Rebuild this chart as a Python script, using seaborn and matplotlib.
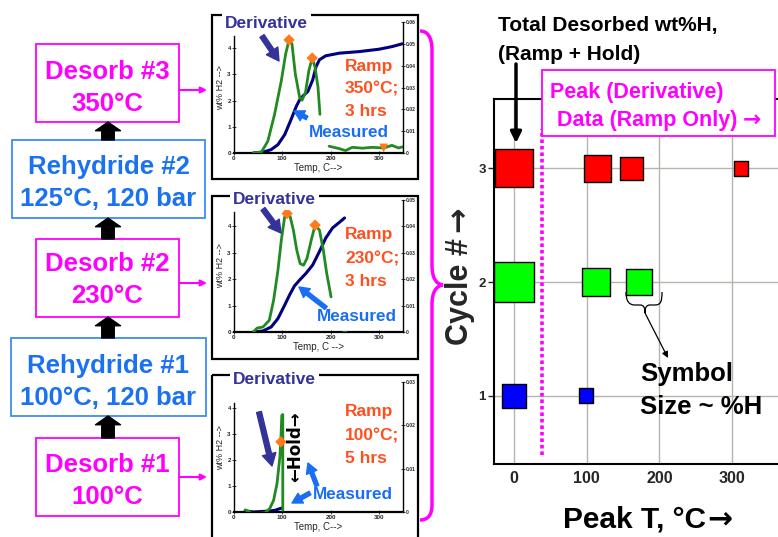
import numpy as np
import pandas as pd
import matplotlib
matplotlib.use("Agg")
import matplotlib.pyplot as plt
import seaborn as sns
from matplotlib.patches import Rectangle, PathPatch
from matplotlib.path import Path

sns.set_style("white")
plt.rcParams["font.family"] = ["Liberation Sans", "DejaVu Sans"]
plt.rcParams["font.weight"] = "bold"

W, H = 778, 537

# main chart: peak temperatures of each desorb cycle (0 = total desorbed)
cycles = [3, 3, 3, 3, 2, 2, 2, 1, 1]
peak_t = [0, 115, 162, 312, 0, 113, 172, 0, 99]
wt_h = [4.0, 2.1, 1.5, 0.6, 4.3, 2.1, 1.8, 1.6, 0.6]
cycle_colors = {1: "#0000ff", 2: "#00ff00", 3: "#ff0000"}
main_xticks = [0, 100, 200, 300]
main_yticks = [1, 2, 3]
ramp_only_t = 38

# inset: cycle 3, ramp to 350C
c3_meas_t = [40, 60, 77, 91, 105, 118, 129, 136, 142, 153, 163, 170, 177, 190, 218, 259, 300, 327, 349]
c3_meas_wt = [0, 0.03, 0.13, 0.32, 0.70, 1.27, 1.78, 2.03, 2.16, 2.35, 2.79, 3.30, 3.56, 3.71, 3.81, 3.87, 3.96, 4.06, 4.17]
c3_der_t = [40, 57, 70, 84, 98, 107, 114, 120, 127, 136, 141, 148, 155, 162, 168, 174, 178,
            197, 218, 231, 245, 266, 286, 310, 327, 341, 349]
c3_der_v = [0, 0.0005, 0.0054, 0.0177, 0.0331, 0.0454, 0.0518, 0.050, 0.0362, 0.0254, 0.0242, 0.0277,
            0.0377, 0.0435, 0.0392, 0.030, 0.0177,
            0.0031, 0.002, 0.0011, 0.0026, 0.0022, 0.0026, 0.0023, 0.0035, 0.0023, 0.0028]
c3_der_seg = [0] * 17 + [1] * 10
c3_pk_t = [114, 162]
c3_pk_v = [0.0518, 0.0435]
c3_hold_t = [310]
c3_hold_v = [0.0023]

# inset: cycle 2, ramp to 230C
c2_meas_t = [40, 60, 77, 91, 105, 115, 125, 136, 149, 163, 177, 190, 204, 218, 229]
c2_meas_wt = [0, 0.04, 0.19, 0.51, 1.02, 1.40, 1.74, 1.97, 2.22, 2.54, 3.05, 3.56, 3.94, 4.15, 4.32]
c2_der_t = [40, 48, 60, 73, 82, 91, 98, 105, 110, 116, 123, 130, 137, 144, 151, 160, 168, 177, 185, 192, 201,
            226, 231]
c2_der_v = [0, 0.0015, 0.0019, 0.0044, 0.012, 0.0234, 0.0348, 0.0437, 0.0449, 0.0439, 0.0386, 0.031, 0.0259,
            0.0253, 0.0278, 0.0348, 0.0405, 0.0386, 0.031, 0.0222, 0.0133,
            0.0, 0.0]
c2_der_seg = [0] * 21 + [1] * 2
c2_pk_t = [110, 168]
c2_pk_v = [0.0449, 0.0405]

# inset: cycle 1, ramp to 100C
c1_meas_t = [23, 40, 67, 84, 95, 99]
c1_meas_wt = [0.04, 0.0, 0.03, 0.06, 0.13, 0.15]
c1_der_t = [23, 30, 36, 50, 64, 74, 82, 89, 95, 97, 99, 101, 101]
c1_der_v = [0.0005, 0.0002, -0.0003, -0.0003, -0.0002, 0.0008, 0.0027, 0.0065, 0.0127, 0.0165, 0.0223,
            0.0225, 0.0004]
c1_der_seg = [0] * 13
c1_pk_t = [97]
c1_pk_v = [0.0162]

NAVY = "#000080"
GREEN = "#218a21"
ORANGE = "#ff7a1a"
MAGENTA = "#ff00ff"
FLOWBLUE = "#1a72f0"
MEASBLUE = "#1a6ef5"
DERIV = "#333399"
RAMP = "#ff5020"

fig = plt.figure(figsize=(W / 100, H / 100), dpi=100)


def px_box(x0, y0, x1, y1):
    return [x0 / W, 1 - y1 / H, (x1 - x0) / W, (y1 - y0) / H]


# ---------------- main scatter ----------------
ax = fig.add_axes(px_box(494, 99, 778, 464))
df = pd.DataFrame({"cycle": cycles, "peak_t": peak_t, "wt": wt_h})
sns.scatterplot(data=df, x="peak_t", y="cycle", hue="cycle", palette=cycle_colors,
                size="wt", size_norm=(0, 5), sizes=(0, 940), marker="s",
                edgecolor="black", linewidth=1, legend=False, ax=ax, zorder=3)
ax.vlines(ramp_only_t, 0.48, 3.35, colors=MAGENTA, linestyles=(0, (1, 0.8)), lw=2.6, zorder=2)
ax.set_xlim(-27.5, 363)
ax.set_ylim(0.4, 3.61)
ax.set_xticks(main_xticks)
ax.set_yticks(main_yticks)
ax.grid(True, color="#b5b5ae", lw=1)
ax.set_axisbelow(True)
ax.spines["right"].set_visible(False)
for s in ["left", "bottom", "top"]:
    ax.spines[s].set_linewidth(1.5)
    ax.spines[s].set_color("black")
ax.tick_params(axis="x", labelsize=11.5, length=0, pad=5)
ax.tick_params(axis="y", labelsize=9.5, length=4, width=1, pad=2, left=True)
ax.set_xlabel("")
ax.set_ylabel("")


# ---------------- insets ----------------
def draw_inset(top, bottom, meas_t, meas_wt, der_t, der_v, der_seg, pk_t, pk_v,
               r_max, left_top, xlabel):
    a = fig.add_axes(px_box(234, top, 403, bottom))
    a2 = a.twinx()
    sns.lineplot(x=meas_t, y=meas_wt, ax=a, color=NAVY, lw=2.2, sort=False)
    der = pd.DataFrame({"t": der_t, "v": der_v, "seg": der_seg})
    sns.lineplot(data=der, x="t", y="v", units="seg", estimator=None, sort=False,
                 ax=a2, color=GREEN, lw=2.0)
    sns.scatterplot(x=pk_t, y=pk_v, ax=a2, marker="D", color=ORANGE, s=34,
                    edgecolor="none", zorder=5, clip_on=False)
    a.set_xlim(0, 350)
    a.set_ylim(0, 5)
    a2.set_ylim(0, r_max)
    a.set_xticks([0, 100, 200, 300])
    a.set_yticks([0, 1, 2, 3, 4])
    rt = np.round(np.arange(0, r_max + 1e-9, 0.01), 2)
    a2.set_yticks(rt)
    a2.set_yticklabels(["0"] + [f"{v:.2f}" for v in rt[1:]])
    for sp in ["top", "right"]:
        a.spines[sp].set_visible(False)
    for sp in ["top", "left", "bottom"]:
        a2.spines[sp].set_visible(False)
    a.spines["left"].set_bounds(0, left_top)
    a.spines["left"].set_linewidth(1.0)
    a.spines["bottom"].set_linewidth(1.6)
    a2.spines["right"].set_linewidth(1.0)
    for sp in a.spines.values():
        sp.set_color("black")
    a2.spines["right"].set_color("black")
    a.tick_params(axis="both", labelsize=4.5, length=2.5, width=0.6, pad=1,
                  direction="inout", left=True, bottom=True)
    a2.tick_params(axis="y", labelsize=3.6, length=2.5, width=0.6, pad=1,
                   direction="inout", right=True)
    a.set_xlabel(xlabel, fontsize=7, labelpad=1)
    a.set_ylabel("wt% H2 -->", fontsize=6.5, labelpad=2)
    a2.set_ylabel("")
    return a, a2


_, top_twin = draw_inset(22, 153, c3_meas_t, c3_meas_wt, c3_der_t, c3_der_v, c3_der_seg,
                         c3_pk_t, c3_pk_v, 0.06, 4.45, "Temp, C-->")
sns.scatterplot(x=c3_hold_t, y=c3_hold_v, ax=top_twin, marker="v", color=ORANGE, s=40,
                edgecolor="none", zorder=5)
top_twin.set_ylabel("")
draw_inset(200, 332, c2_meas_t, c2_meas_wt, c2_der_t, c2_der_v, c2_der_seg,
           c2_pk_t, c2_pk_v, 0.05, 4.55, "Temp, C -->")
draw_inset(382, 512, c1_meas_t, c1_meas_wt, c1_der_t, c1_der_v, c1_der_seg,
           c1_pk_t, c1_pk_v, 0.03, 4.2, "Temp, C-->")

# ---------------- overlay for annotations ----------------
ov = fig.add_axes([0, 0, 1, 1], zorder=20)
ov.set_xlim(0, W)
ov.set_ylim(H, 0)
ov.axis("off")
ov.patch.set_visible(False)
renderer = fig.canvas.get_renderer()


def label(x, yc, s, size, color="black", ha="left"):
    return ov.text(x, yc + 0.36 * size * 1.389, s, fontsize=size, color=color, ha=ha,
                   va="baseline", fontweight="bold")


def arrow_after(t, size, color="black", gap=3):
    bb = t.get_window_extent(renderer=renderer)
    x_end = ov.transData.inverted().transform((bb.x1, bb.y0))[0]
    ov.text(x_end + gap, t.get_position()[1], "→", family=["DejaVu Sans"], fontsize=size,
            color=color, ha="left", va=t.get_va(), fontweight="bold")


# flowchart
flow = [
    ("Desorb #3", "350°C", (36, 44, 179, 122), MAGENTA, MAGENTA, 70),
    ("Rehydride #2", "125°C, 120 bar", (12, 140, 205, 218), FLOWBLUE, "#3d8cf5", 165),
    ("Desorb #2", "230°C", (36, 239, 179, 317), MAGENTA, MAGENTA, 262),
    ("Rehydride #1", "100°C, 120 bar", (11, 338, 206, 416), FLOWBLUE, "#3d8cf5", 364),
    ("Desorb #1", "100°C", (36, 438, 179, 516), MAGENTA, MAGENTA, 463),
]
for l1, l2, (x0, y0, x1, y1), tc, bc, yc in flow:
    ov.add_patch(Rectangle((x0, y0), x1 - x0, y1 - y0, fill=False, ec=bc, lw=1.3))
    label((x0 + x1) / 2, yc, l1, 18.5, tc, "center")
    label((x0 + x1) / 2, yc + 32, l2, 18.5, tc, "center")

for y_from, y_to in [(140, 122), (239, 218), (338, 317), (438, 416)]:
    ov.annotate("", xy=(108, y_to), xytext=(108, y_from),
                arrowprops=dict(arrowstyle="simple,head_width=1.0,head_length=0.35,tail_width=0.5",
                                mutation_scale=18, fc="black", ec="black", shrinkA=0, shrinkB=0))
for yy in [90, 283, 477]:
    ov.annotate("", xy=(207, yy), xytext=(179, yy),
                arrowprops=dict(arrowstyle="-|>", color=MAGENTA, lw=1.5, mutation_scale=9,
                                shrinkA=0, shrinkB=0))

# inset frames and labels
for y0, y1 in [(15, 179), (196, 359), (375, 560)]:
    ov.add_patch(Rectangle((212, y0), 206, y1 - y0, fill=False, ec="black", lw=1.6))

deriv_pos = [(225, 22), (233, 198), (233, 378)]
for x, yc in deriv_pos:
    ov.text(x, yc + 0.36 * 12.5 * 1.389, "Derivative", fontsize=12.5, color=DERIV,
            va="baseline", ha="left", fontweight="bold",
            bbox=dict(fc="white", ec="none", pad=2))

navy_arrows = [((262, 36), (279, 61)), ((263, 209), (281, 233)), ((259, 412), (272, 466))]
for tail, head in navy_arrows:
    ov.annotate("", xy=head, xytext=tail,
                arrowprops=dict(arrowstyle="simple,head_width=0.9,head_length=0.8,tail_width=0.32",
                                mutation_scale=11, fc=DERIV, ec=DERIV, shrinkA=0, shrinkB=0))

blue_arrows = [((307, 118), (294, 111)), ((326, 308), (299, 287)),
               ((310, 493), (292, 503)), ((317, 486), (308, 463))]
for tail, head in blue_arrows:
    ov.annotate("", xy=head, xytext=tail,
                arrowprops=dict(arrowstyle="simple,head_width=1.0,head_length=0.9,tail_width=0.35",
                                mutation_scale=8, fc=MEASBLUE, ec=MEASBLUE, shrinkA=0, shrinkB=0))

ramp_text = [(["Ramp", "350°C;", "3 hrs"], [65, 87, 110]),
             (["Ramp", "230°C;", "3 hrs"], [233, 257, 280]),
             (["Ramp", "100°C;", "5 hrs"], [410, 434, 457])]
for lines, ys in ramp_text:
    for s, yc in zip(lines, ys):
        label(345, yc, s, 12.5, RAMP)

for x, yc in [(309, 131), (317, 315), (313, 493)]:
    label(x, yc, "Measured", 12.3, MEASBLUE)

ov.text(295, 447, "←Hold→", rotation=90, fontsize=12, color="black", ha="center", va="center",
        fontweight="bold", family=["DejaVu Sans"])

# big brace
brace = Path([(420, 31), (428, 31), (432, 38), (432, 50), (432, 265),
              (432, 278), (436, 284), (443, 285), (436, 286), (432, 292), (432, 305),
              (432, 505), (432, 515), (428, 520), (420, 520)],
             [Path.MOVETO, Path.CURVE4, Path.CURVE4, Path.CURVE4, Path.LINETO,
              Path.CURVE4, Path.CURVE4, Path.CURVE4, Path.CURVE4, Path.CURVE4, Path.CURVE4,
              Path.LINETO, Path.CURVE4, Path.CURVE4, Path.CURVE4])
ov.add_patch(PathPatch(brace, fill=False, ec=MAGENTA, lw=2.5))

# main chart annotations
label(498, 23, "Total Desorbed wt%H,", 15)
label(498, 52, "(Ramp + Hold)", 15)
ov.annotate("", xy=(516, 143), xytext=(516, 64),
            arrowprops=dict(arrowstyle="-|>", color="black", lw=2.5, mutation_scale=16,
                            shrinkA=0, shrinkB=0))
ov.add_patch(Rectangle((542, 70), 233, 66, fc="white", ec=MAGENTA, lw=1.3))
label(550, 90, "Peak (Derivative)", 15.5, MAGENTA)
t_data = label(557, 118, "Data (Ramp Only)", 15.5, MAGENTA)
arrow_after(t_data, 15.5, MAGENTA, gap=5)

small_brace = Path([(626, 292), (626, 301), (629, 305), (635, 305), (640, 305),
                    (644, 305), (645, 308), (645, 313), (645, 308), (646, 305), (650, 305),
                    (655, 305), (661, 305), (662, 301), (662, 292)],
                   [Path.MOVETO, Path.CURVE4, Path.CURVE4, Path.CURVE4, Path.LINETO,
                    Path.CURVE4, Path.CURVE4, Path.CURVE4, Path.CURVE4, Path.CURVE4, Path.CURVE4,
                    Path.LINETO, Path.CURVE4, Path.CURVE4, Path.CURVE4])
ov.add_patch(PathPatch(small_brace, fill=False, ec="black", lw=0.9))
ov.annotate("", xy=(668, 358), xytext=(645, 313),
            arrowprops=dict(arrowstyle="-|>", color="black", lw=0.9, mutation_scale=9,
                            shrinkA=0, shrinkB=0))
label(640, 372, "Symbol", 18.5)
label(640, 405, "Size ~ %H", 18.5)

t_peak = label(563, 517, "Peak T, °C", 21.5)
arrow_after(t_peak, 21.5, gap=1)

t_cyc = ov.text(460, 345, "Cycle #", fontsize=22, rotation=90, ha="center", va="bottom",
                fontweight="bold")
bb = t_cyc.get_window_extent(renderer=renderer)
y_top = ov.transData.inverted().transform((bb.x0, bb.y1))[1]
ov.text(460, y_top - 6, "→", fontsize=22, rotation=90, ha="center", va="bottom",
        fontweight="bold", family=["DejaVu Sans"])

fig.savefig("out.png", dpi=100)
